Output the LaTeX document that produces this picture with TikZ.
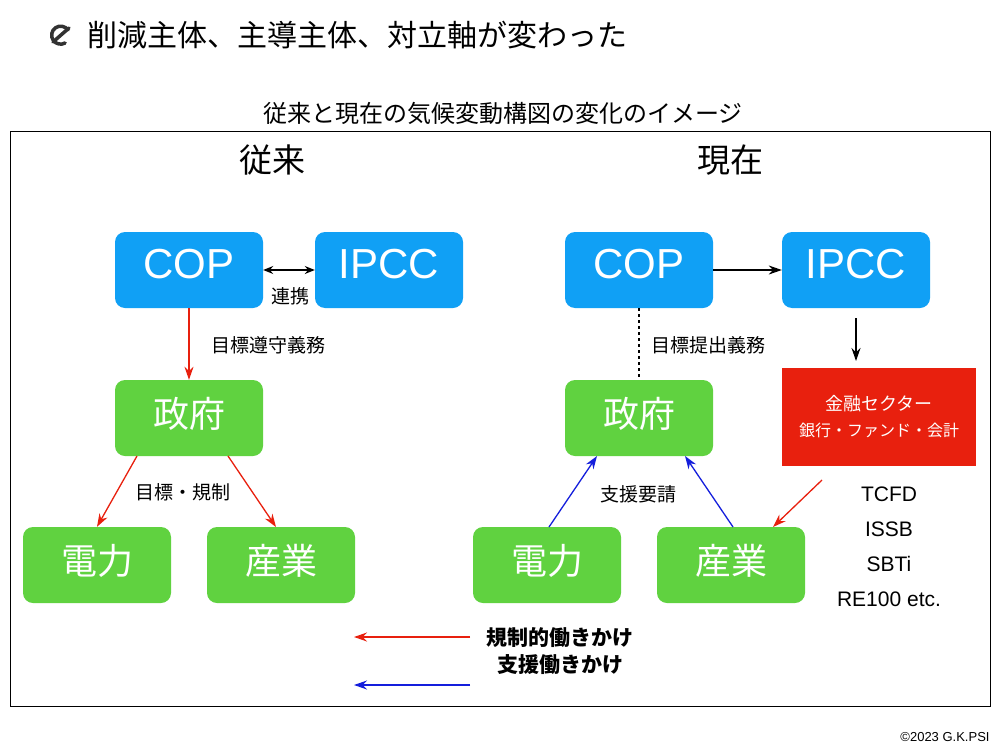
\documentclass[tikz,border=0pt]{standalone}
\usepackage{fontspec}
\setmainfont{Noto Sans CJK JP}
\newfontfamily\lat{Liberation Sans}
\usetikzlibrary{arrows.meta}
\definecolor{bx}{RGB}{16,160,245}
\definecolor{gx}{RGB}{96,210,64}
\definecolor{rx}{RGB}{232,32,14}
\definecolor{ax}{RGB}{20,30,220}
\definecolor{ix}{RGB}{50,50,50}
\newcommand{\upx}[1]{\raisebox{12pt}{#1}}
\begin{document}
\begin{tikzpicture}[x=1pt,y=-1pt,
 bnode/.style={fill=bx,rounded corners=10pt,minimum width=148pt,minimum height=76pt,text=white,font=\lat\fontsize{42}{44}\selectfont,inner sep=0pt},
 gnode/.style={fill=gx,rounded corners=10pt,minimum width=148pt,minimum height=76pt,text=white,font=\fontsize{36}{38}\selectfont,inner sep=0pt},
 lbl/.style={font=\fontsize{19}{21}\selectfont,inner sep=1pt},
 arr/.style={-{Stealth[length=13pt,width=9pt]},line width=1.3pt}]
\useasboundingbox (0,0) rectangle (1000,749);
\fill[white] (0,0) rectangle (1000,749);
\coordinate (ic) at (60,35);
\draw[ix,line width=3.5pt,line cap=round] ([shift={(8,-5)}]ic) arc[start angle=35,end angle=300,radius=9pt];
\draw[ix,line width=3.5pt,line cap=round] ([shift={(-7,7)}]ic) -- ([shift={(9,-7)}]ic);
\node[anchor=west,font=\fontsize{30}{32}\selectfont] (h) at (84,35) {削減主体、主導主体、対立軸が変わった};
\node[font=\fontsize{24}{26}\selectfont] (t) at (503,113) {従来と現在の気候変動構図の変化のイメージ};
\draw[line width=0.8pt] (10,131) rectangle (990,706);
\node[font=\fontsize{33}{35}\selectfont] (k1) at (272,160) {従来};
\node[font=\fontsize{33}{35}\selectfont] (k2) at (730,160) {現在};
% left
\node[bnode] (cop1) at (189,270) {\upx{COP}};
\node[bnode] (ipcc1) at (389,270) {\upx{IPCC}};
\node[gnode] (gov1) at (189,418) {\upx{政府}};
\node[gnode] (el1) at (97,565) {\upx{電力}};
\node[gnode] (in1) at (281,565) {\upx{産業}};
\draw[{Stealth[length=10pt,width=8pt]}-{Stealth[length=10pt,width=8pt]},line width=1.3pt] (cop1) -- (ipcc1);
\node[lbl] (l1) at (290,296) {連携};
\draw[arr,rx] (cop1) -- (gov1);
\node[lbl] (l2) at (268,345) {目標遵守義務};
\draw[arr,rx] (137,456) -- (el1.north);
\draw[arr,rx] (228,456) -- (276,527);
\node[lbl] (l3) at (183,492) {目標・規制};
% right
\node[bnode] (cop2) at (639,270) {\upx{COP}};
\node[bnode] (ipcc2) at (856,270) {\upx{IPCC}};
\node[gnode] (gov2) at (639,418) {\upx{政府}};
\node[gnode] (el2) at (547,565) {\upx{電力}};
\node[gnode] (in2) at (731,565) {\upx{産業}};
\node[fill=rx,minimum width=194pt,minimum height=98pt,inner sep=0pt,text=white,align=center] (fin) at (879,417)
 {{\fontsize{18}{20}\selectfont 金融セクター}\\[10pt]{\fontsize{16}{18}\selectfont 銀行・ファンド・会計}};
\draw[arr] (cop2) -- (ipcc2);
\draw[dash pattern=on 3pt off 3pt,line width=1.2pt] (cop2) -- (gov2);
\node[lbl] (l4) at (708,345) {目標提出義務};
\coordinate (d1) at (856,318);
\coordinate (d2) at (856,361);
\draw[arr] (d1) -- (d2);
\draw[arr,ax] (549,527) -- (597,456);
\draw[arr,ax] (733,527) -- (685,456);
\node[lbl] (l5) at (638,494) {支援要請};
\coordinate (r1) at (822,480);
\draw[arr,rx] (r1) -- (773,527);
\node[align=center,font=\lat\fontsize{21}{35}\selectfont] (lst) at (889,547) {TCFD\\ISSB\\SBTi\\RE100 etc.};
% legend
\coordinate (a1) at (470,637); \coordinate (a2) at (354,637);
\coordinate (b1) at (470,685); \coordinate (b2) at (354,685);
\draw[arr,rx] (a1) -- (a2);
\draw[arr,ax] (b1) -- (b2);
\node[font=\bfseries\fontsize{21}{27}\selectfont,align=center] (lg) at (560,651) {規制的働きかけ\\支援働きかけ};
\node[font=\lat\fontsize{13}{14}\selectfont] (cp) at (945,737) {\textcopyright 2023 G.K.PSI};
\end{tikzpicture}
\end{document}
